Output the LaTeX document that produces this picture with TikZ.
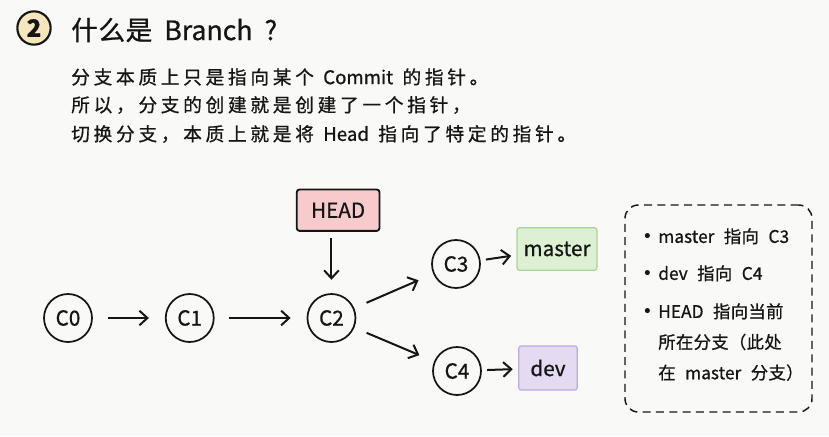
\documentclass[tikz,border=0pt]{standalone}
\usepackage{fontspec}
\setmainfont{Noto Sans CJK SC}[FakeBold=0.8]
\newfontfamily\dotfont{DejaVu Sans}
\usetikzlibrary{arrows.meta, positioning, fit, backgrounds}
\definecolor{paper}{HTML}{F9F9F7}
\definecolor{headfill}{HTML}{F7CBCB}
\definecolor{masterfill}{HTML}{DDF0D4}
\definecolor{masterline}{HTML}{A8D698}
\definecolor{devfill}{HTML}{E4DBF3}
\definecolor{devline}{HTML}{BCA9E0}
\definecolor{numfill}{HTML}{F6E6BB}
\definecolor{ink}{HTML}{151515}

% extra gap between CJK characters only
\newXeTeXintercharclass\cjkcls
\newcount\cjkidx
\newcommand\cjkrange[2]{%
  \cjkidx=#1
  \loop\XeTeXcharclass\cjkidx=\cjkcls
  \ifnum\cjkidx<#2 \advance\cjkidx by 1 \repeat}
\cjkrange{"3000}{"303F}
\cjkrange{"4E00}{"9FFF}
\cjkrange{"FF00}{"FFEF}
\newcommand\cjkgap{0pt}
\XeTeXinterchartoks\cjkcls\cjkcls={\hskip\cjkgap\relax}
\XeTeXinterchartokenstate=1
\newcommand\notedot{\makebox[8.25pt][l]{\hspace{-3.7pt}{\dotfont •}}}
\newcommand\spacing[2]{\def\cjkgap{#1}\spaceskip=#2\relax}

\begin{document}
\begin{tikzpicture}[
    x=0.75pt, y=-0.75pt,
    line join=round,
    commit/.style={circle, draw=ink, line width=1.3pt, minimum size=36pt, inner sep=0pt, text=ink, font=\fontsize{15.5}{18}\selectfont},
    refbox/.style={rectangle, draw=#1, line width=0.9pt, rounded corners=2pt, inner sep=0pt, text=ink, font=\fontsize{15.5}{18}\selectfont},
    arrow/.style={-{Straight Barb[length=6pt, width=11pt, line width=1.5pt]}, line width=1.5pt, draw=ink},
    bodytext/.style={anchor=west, inner sep=0pt, text=ink, font=\fontsize{14}{16}\selectfont, execute at begin node={\spacing{0.2em}{0.5em}}},
    notetext/.style={anchor=north west, inner sep=0pt, text=ink, align=left, font=\fontsize{13}{23}\selectfont, execute at begin node={\spacing{0.02em}{0.55em}}},
    notebox/.style={rectangle, draw=ink, dashed, dash pattern=on 6pt off 4pt, line width=1.1pt, rounded corners=10pt}
]

% Background
\fill[paper] (0,0) rectangle (829,436);

% Heading
\node[circle, draw=ink, line width=1.6pt, fill=numfill, minimum size=25pt, inner sep=0pt, text=ink, font=\fontsize{18}{18}\selectfont\bfseries] (num) at (34,28) {2};
\node[anchor=west, inner sep=0pt, text=ink, font=\fontsize{20}{22}\selectfont, execute at begin node={\spacing{0.02em}{0.45em}}] (title) at (71,30) {什么是 Branch ?};

% Explanation lines
\node[bodytext] (line_a) at (71,77) {分支本质上只是指向某个 Commit 的指针。};
\node[bodytext] (line_b) at (71,105) {所以，分支的创建就是创建了一个指针，};
\node[bodytext] (line_c) at (71,134) {切换分支，本质上就是将 Head 指向了特定的指针。};

% Commits
\node[commit] (c0) at (68,318) {C0};
\node[commit, right=54pt of c0] (c1) {C1};
\node[commit, right=69pt of c1] (c2) {C2};
\node[commit] (c3) at (456,264) {C3};
\node[commit] (c4) at (457,371) {C4};

% Pointers
\node[refbox=ink, fill=headfill, line width=1.4pt, minimum width=62pt, minimum height=31pt, above=46pt of c2, xshift=5pt] (head) {HEAD};
\node[refbox=masterline, fill=masterfill, minimum width=60pt, minimum height=32pt] (master_ref) at (557,249) {master};
\node[refbox=devline, fill=devfill, minimum width=44pt, minimum height=33pt] (dev_ref) at (548,368) {dev};

% Arrows
\draw[arrow, shorten <=11pt, shorten >=12pt] (c0) -- (c1);
\draw[arrow, shorten <=11pt, shorten >=12pt] (c1) -- (c2);
\draw[arrow, shorten <=5pt, shorten >=10pt] (head.south -| c2) -- (c2);
\draw[arrow, shorten <=10pt, shorten >=12pt] (c2) -- (c3);
\draw[arrow, shorten <=10pt, shorten >=12pt] (c2) -- (c4);
\draw[arrow, shorten <=4pt, shorten >=4pt] (c3) -- (master_ref);
\draw[arrow, shorten <=4pt, shorten >=4pt] (c4) -- (dev_ref);

% Notes
\node[notetext] (note_a) at (647,228) {\notedot master 指向 C3};
\node[notetext] (note_b) at (647,265) {\notedot dev 指向 C4};
\node[notetext] (note_c) at (647,303) {\notedot HEAD 指向当前\\\hspace*{8.25pt}所在分支（此处\\\hspace*{8.25pt}在 master 分支）};

\coordinate (box_nw) at (625,205);
\coordinate (box_se) at (812,412);
\node[notebox, fit=(box_nw)(box_se), inner sep=0pt] (legend) {};

\end{tikzpicture}
\end{document}
